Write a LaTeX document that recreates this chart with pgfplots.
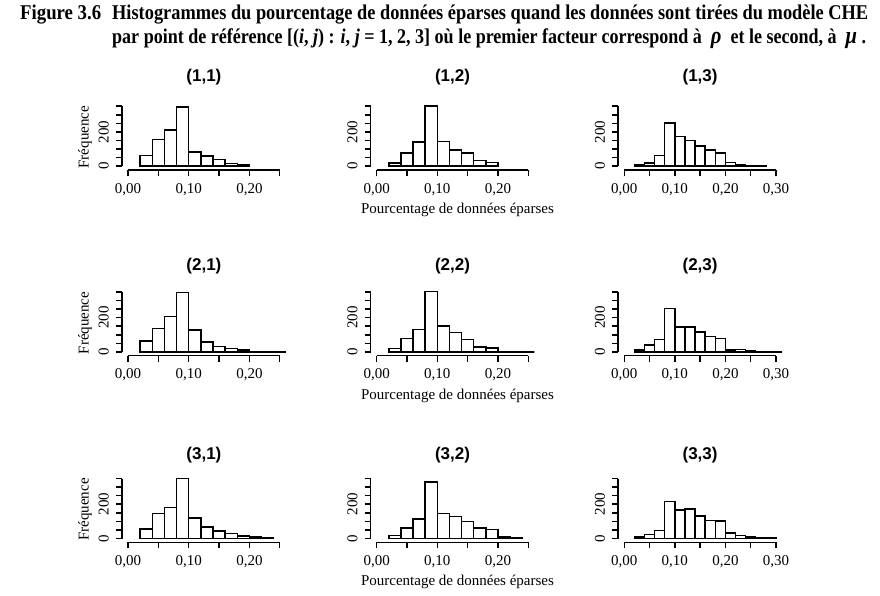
\documentclass[border=0pt]{standalone}
\usepackage{fontspec}
\setmainfont{Liberation Serif}
\newfontfamily\titlesans{Liberation Sans}
\usepackage{graphicx}
\usepackage{pgfplots}
\pgfplotsset{compat=1.18}

% R-style histogram panels: detached axes, ticks every 50 / 0.05
\pgfplotsset{
  hist/.style={
    scale only axis, width=163.8pt, height=65.5pt,
    anchor=south west,
    ymin=-22, ymax=360,
    axis x line*=bottom, axis y line*=left,
    axis line style={draw=none},
    clip mode=individual,
    tick align=outside,
    major tick length=6pt,
    tick style={black, line width=1.5pt},
    ytick={0,50,100,150,200,250,300,350},
    yticklabels={0,{},{},{},200,{},{},{}},
    xticklabel style={font=\fontsize{15}{18}\selectfont, inner sep=0pt, anchor=north, yshift=-7pt},
    yticklabel style={font=\fontsize{15}{18}\selectfont, inner sep=0pt, xshift=-7pt, rotate=90, anchor=south},
  },
  col12/.style={xmin=-0.01, xmax=0.26,
    xtick={0,0.05,0.10,0.15,0.20,0.25},
    xticklabels={{0,00},{},{0,10},{},{0,20},{}}},
  col3/.style={xmin=-0.012, xmax=0.312,
    xtick={0,0.05,0.10,0.15,0.20,0.25,0.30},
    xticklabels={{0,00},{},{0,10},{},{0,20},{},{0,30}}},
  bars/.style={ybar interval, draw=black, fill=white, line width=1.5pt},
}

% axis lines spanning only the tick range
\newcommand{\rlinesA}{%
  \draw[line width=1.5pt] (axis cs:0,-22) -- (axis cs:0.25,-22);
  \draw[line width=1.5pt] (axis cs:-0.01,0) -- (axis cs:-0.01,350);}
\newcommand{\rlinesB}{%
  \draw[line width=1.5pt] (axis cs:0,-22) -- (axis cs:0.30,-22);
  \draw[line width=1.5pt] (axis cs:-0.012,0) -- (axis cs:-0.012,350);}
\newcommand{\ptitle}[2]{\node[font=\titlesans\bfseries\fontsize{17}{20}\selectfont]
  at ([yshift=#1]rel axis cs:0.5,1) {#2};}
\newcommand{\freq}{\node[rotate=90, font=\fontsize{15}{18}\selectfont]
  at ([xshift=-37pt]rel axis cs:0,0.5) {Fréquence};}
\newcommand{\pourc}{\node[font=\fontsize{15}{18}\selectfont]
  at ([xshift=5pt, yshift=-40pt]rel axis cs:0.5,0) {Pourcentage de données éparses};}

\begin{document}
\begin{tikzpicture}
\path[use as bounding box] (0pt,0pt) rectangle (880pt,-595pt);

% caption
\node[anchor=base west, inner sep=0pt] at (20pt,-19pt)
  {\resizebox{81pt}{\height}{\bfseries\fontsize{21}{25}\selectfont Figure 3.6}};
\node[anchor=base west, inner sep=0pt] at (112pt,-19pt)
  {\resizebox{756pt}{\height}{\bfseries\fontsize{21}{25}\selectfont Histogrammes du pourcentage de données éparses quand les données sont tirées du modèle CHE}};
\node[anchor=base west, inner sep=0pt] at (112pt,-43pt)
  {\resizebox{754pt}{\height}{\bfseries\fontsize{21}{25}\selectfont par point de référence [(\textit{i}, \textit{j}) : \textit{i}, \textit{j} = 1, 2, 3] où le premier facteur correspond à \ {\fontsize{24}{25}\selectfont\itshape ρ} \ et le second, à \ {\fontsize{24}{25}\selectfont\itshape μ} .}};

% ---------- row 1 ----------
\begin{axis}[hist, col12, at={(122pt,-170pt)}]
  \addplot[bars] coordinates {(0.02,63) (0.04,155) (0.06,212) (0.08,344) (0.10,82) (0.12,59) (0.14,40) (0.16,15) (0.18,10) (0.20,0)};
  \rlinesA \ptitle{27pt}{(1,1)} \freq
\end{axis}
\begin{axis}[hist, col12, at={(370.6pt,-170pt)}]
  \addplot[bars] coordinates {(0.02,19) (0.04,78) (0.06,142) (0.08,350) (0.10,144) (0.12,95) (0.14,78) (0.16,34) (0.18,21) (0.20,0)};
  \rlinesA \ptitle{27pt}{(1,2)} \pourc
\end{axis}
\begin{axis}[hist, col3, at={(618.2pt,-170pt)}]
  \addplot[bars] coordinates {(0.02,11) (0.04,19) (0.06,63) (0.08,251) (0.10,174) (0.12,149) (0.14,119) (0.16,96) (0.18,77) (0.20,23) (0.22,10) (0.24,4) (0.26,4) (0.28,0)};
  \rlinesB \ptitle{27pt}{(1,3)}
\end{axis}

% ---------- row 2 ----------
\begin{axis}[hist, col12, at={(122pt,-355.7pt)}]
  \addplot[bars] coordinates {(0.02,65) (0.04,138) (0.06,208) (0.08,346) (0.10,129) (0.12,59) (0.14,32) (0.16,20) (0.18,12) (0.20,4) (0.22,2) (0.24,2) (0.26,0)};
  \rlinesA \ptitle{24pt}{(2,1)} \freq
\end{axis}
\begin{axis}[hist, col12, at={(370.6pt,-355.7pt)}]
  \addplot[bars] coordinates {(0.02,19) (0.04,78) (0.06,130) (0.08,352) (0.10,152) (0.12,113) (0.14,72) (0.16,29) (0.18,23) (0.20,2) (0.22,1) (0.24,1) (0.26,0)};
  \rlinesA \ptitle{24pt}{(2,2)} \pourc
\end{axis}
\begin{axis}[hist, col3, at={(618.2pt,-355.7pt)}]
  \addplot[bars] coordinates {(0.02,10) (0.04,39) (0.06,72) (0.08,253) (0.10,146) (0.12,146) (0.14,117) (0.16,91) (0.18,78) (0.20,10) (0.22,14) (0.24,6) (0.26,2) (0.28,2) (0.30,1) (0.32,0)};
  \rlinesB \ptitle{24pt}{(2,3)}
\end{axis}

% ---------- row 3 ----------
\begin{axis}[hist, col12, at={(122pt,-542.3pt)}]
  \addplot[bars] coordinates {(0.02,57) (0.04,147) (0.06,182) (0.08,350) (0.10,119) (0.12,67) (0.14,44) (0.16,29) (0.18,15) (0.20,10) (0.22,6) (0.24,0)};
  \rlinesA \ptitle{22pt}{(3,1)} \freq
\end{axis}
\begin{axis}[hist, col12, at={(370.6pt,-542.3pt)}]
  \addplot[bars] coordinates {(0.02,19) (0.04,61) (0.06,115) (0.08,329) (0.10,147) (0.12,128) (0.14,98) (0.16,61) (0.18,52) (0.20,10) (0.22,6) (0.24,0)};
  \rlinesA \ptitle{22pt}{(3,2)} \pourc
\end{axis}
\begin{axis}[hist, col3, at={(618.2pt,-542.3pt)}]
  \addplot[bars] coordinates {(0.02,10) (0.04,23) (0.06,48) (0.08,216) (0.10,166) (0.12,172) (0.14,130) (0.16,105) (0.18,101) (0.20,31) (0.22,19) (0.24,10) (0.26,4) (0.28,4) (0.30,0)};
  \rlinesB \ptitle{22pt}{(3,3)}
\end{axis}
\end{tikzpicture}
\end{document}
